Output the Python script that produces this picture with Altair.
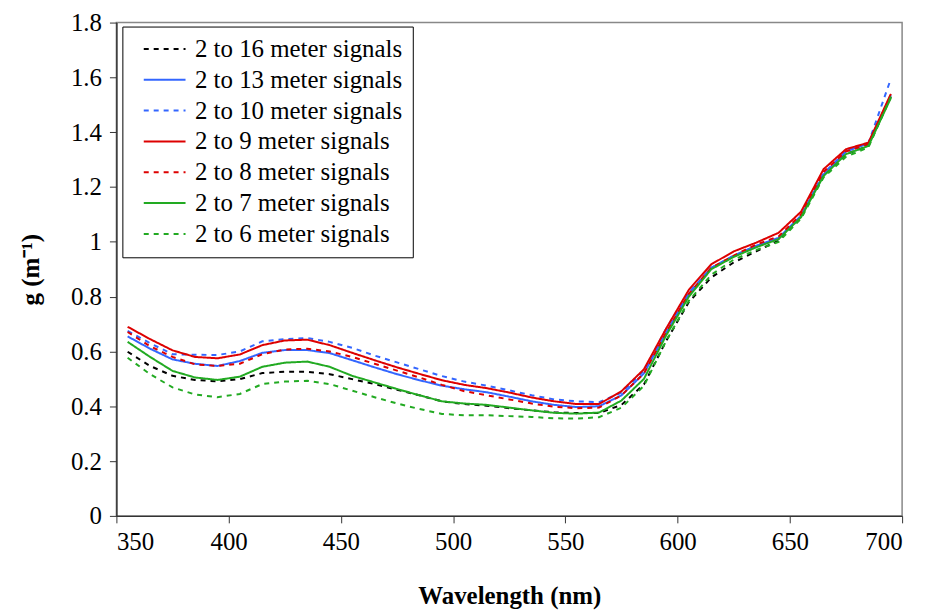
import altair as alt
import pandas as pd

wavelength = [355, 365, 375, 385, 395, 405, 415, 425, 435, 445, 455, 465, 475, 485, 495,
              505, 515, 525, 535, 545, 555, 565, 575, 585, 595, 605, 615, 625, 635, 645,
              655, 665, 675, 685, 695]

series_names = ["2 to 16 meter signals", "2 to 13 meter signals", "2 to 10 meter signals",
                "2 to 9 meter signals", "2 to 8 meter signals", "2 to 7 meter signals",
                "2 to 6 meter signals"]

g16 = [0.599, 0.547, 0.511, 0.496, 0.491, 0.499, 0.521, 0.526, 0.526, 0.517, 0.499, 0.481,
       0.460, 0.440, 0.418, 0.408, 0.402, 0.393, 0.385, 0.378, 0.375, 0.375, 0.405, 0.480,
       0.640, 0.780, 0.870, 0.925, 0.965, 1.005, 1.090, 1.240, 1.320, 1.350, 1.530]
g13 = [0.655, 0.610, 0.571, 0.555, 0.547, 0.565, 0.595, 0.605, 0.605, 0.594, 0.568, 0.542,
       0.517, 0.495, 0.475, 0.462, 0.451, 0.435, 0.418, 0.405, 0.397, 0.400, 0.440, 0.520,
       0.670, 0.810, 0.905, 0.948, 0.985, 1.015, 1.095, 1.245, 1.330, 1.360, 1.535]
g10 = [0.675, 0.630, 0.590, 0.588, 0.587, 0.600, 0.637, 0.645, 0.649, 0.635, 0.613, 0.585,
       0.560, 0.535, 0.510, 0.490, 0.475, 0.458, 0.440, 0.425, 0.418, 0.415, 0.450, 0.530,
       0.685, 0.815, 0.905, 0.950, 0.985, 1.010, 1.095, 1.250, 1.330, 1.360, 1.595]
g9 = [0.690, 0.645, 0.604, 0.580, 0.575, 0.589, 0.623, 0.640, 0.643, 0.623, 0.595, 0.568,
      0.542, 0.518, 0.495, 0.478, 0.466, 0.450, 0.432, 0.418, 0.408, 0.408, 0.455, 0.535,
      0.685, 0.825, 0.918, 0.965, 0.997, 1.033, 1.110, 1.265, 1.338, 1.362, 1.540]
g8 = [0.671, 0.619, 0.580, 0.553, 0.547, 0.555, 0.590, 0.607, 0.610, 0.600, 0.580, 0.555,
      0.530, 0.505, 0.478, 0.455, 0.440, 0.425, 0.410, 0.398, 0.393, 0.395, 0.440, 0.520,
      0.670, 0.810, 0.905, 0.950, 0.990, 1.020, 1.100, 1.255, 1.330, 1.355, 1.530]
g7 = [0.635, 0.580, 0.529, 0.505, 0.496, 0.508, 0.544, 0.559, 0.563, 0.544, 0.511, 0.487,
      0.463, 0.440, 0.418, 0.410, 0.405, 0.395, 0.385, 0.376, 0.373, 0.377, 0.421, 0.500,
      0.660, 0.800, 0.900, 0.945, 0.980, 1.010, 1.090, 1.240, 1.320, 1.350, 1.525]
g6 = [0.577, 0.517, 0.469, 0.443, 0.433, 0.445, 0.481, 0.490, 0.493, 0.481, 0.457, 0.433,
      0.410, 0.390, 0.372, 0.367, 0.367, 0.364, 0.361, 0.356, 0.355, 0.360, 0.395, 0.475,
      0.640, 0.785, 0.880, 0.935, 0.970, 1.000, 1.085, 1.235, 1.310, 1.345, 1.530]

series_values = [g16, g13, g10, g9, g8, g7, g6]
colors = ["#000000", "#3366FF", "#3366FF", "#DD0000", "#DD0000", "#22AA22", "#22AA22"]
dashes = [[5, 5], [1, 0], [5, 5], [1, 0], [5, 5], [1, 0], [5, 5]]

x_ticks = [350, 400, 450, 500, 550, 600, 650, 700]
y_ticks = [0, 0.2, 0.4, 0.6, 0.8, 1.0, 1.2, 1.4, 1.6, 1.8]

rows = []
for order, (name, vals) in enumerate(zip(series_names, series_values)):
    for w, v in zip(wavelength, vals):
        rows.append({"wavelength": w, "g": v, "series": name, "order": order})
df = pd.DataFrame(rows)

FONT = "Liberation Serif, Times New Roman, serif"

legend = alt.Legend(
    orient="none", legendX=6, legendY=4, title=None,
    symbolType="M-2,0H2", symbolSize=441, symbolStrokeWidth=2,
    symbolOffset=20, labelOffset=18,
    labelFont=FONT, labelFontSize=25, labelColor="black",
    strokeColor="black", fillColor="white", padding=10, rowPadding=5,
    labelLimit=400,
)

chart = alt.Chart(df).mark_line(strokeWidth=2).encode(
    x=alt.X("wavelength:Q",
            scale=alt.Scale(domain=[350, 700], nice=False, zero=False),
            axis=alt.Axis(title="Wavelength (nm)", values=x_ticks, format="d",
                          grid=False, tickSize=7, labelPadding=7, titlePadding=29)),
    y=alt.Y("g:Q",
            scale=alt.Scale(domain=[0, 1.8], nice=False),
            axis=alt.Axis(title="g  (m\u207b\u00b9)", values=y_ticks, format="~g",
                          grid=False, tickSize=7, labelPadding=8, titlePadding=27)),
    color=alt.Color("series:N", scale=alt.Scale(domain=series_names, range=colors),
                    legend=legend),
    strokeDash=alt.StrokeDash("series:N", scale=alt.Scale(domain=series_names, range=dashes),
                              legend=legend),
    detail="series:N",
    order="order:Q",
).properties(
    width=790, height=496,
    autosize=alt.AutoSizeParams(type="none"),
    padding={"left": 109, "top": 13, "right": 20, "bottom": 97},
).configure_view(
    stroke="#888888", strokeWidth=1.5
).configure_axis(
    labelFont=FONT, labelFontSize=25, labelColor="black",
    titleFont=FONT, titleFontSize=25, titleFontWeight="bold", titleColor="black",
    domainColor="#333333", tickColor="#333333", domainWidth=1.5,
)

chart.save("out.html", embed_options={"renderer": "svg", "actions": False})
